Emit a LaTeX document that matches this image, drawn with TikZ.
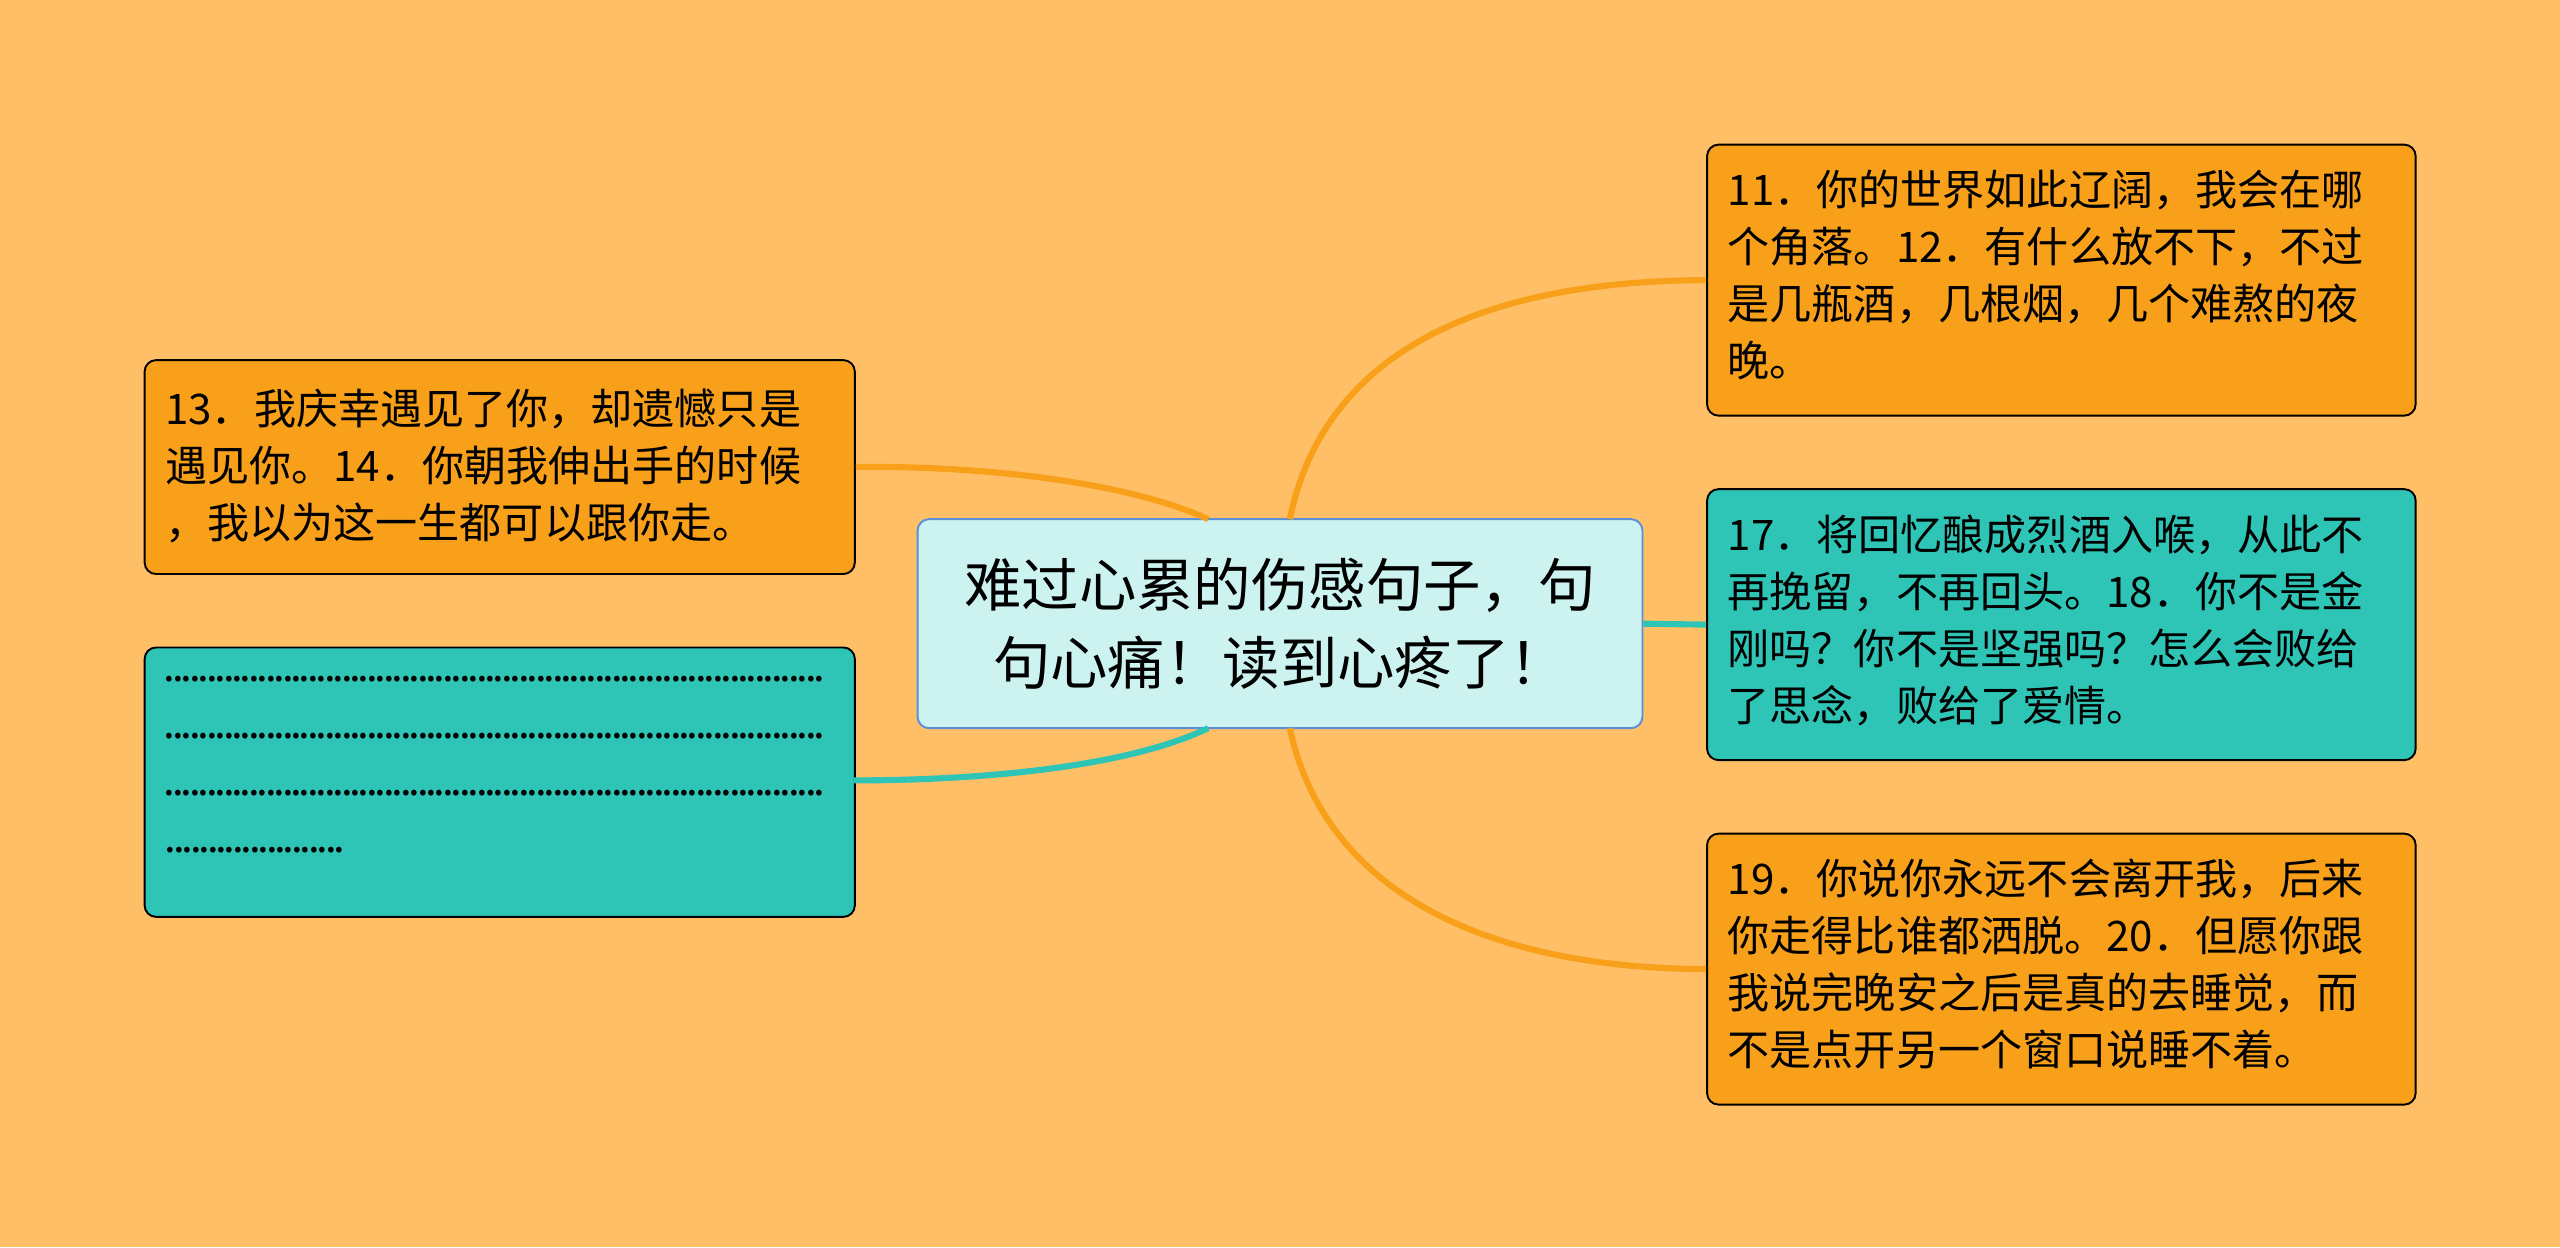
\documentclass[tikz,border=0pt]{standalone}
\usepackage{fontspec}
\setmainfont{Noto Sans CJK SC}
\definecolor{bg}{HTML}{FFBF66}
\definecolor{org}{HTML}{F9A01B}
\definecolor{teal}{HTML}{2EC4B6}
\definecolor{cen}{HTML}{CDF3F1}
\definecolor{cenb}{HTML}{5B8FD9}
\newcommand{\dotrow}[1]{\makebox[#1]{\cleaders\hbox to 0.155cm{\hss.\hss}\hfill}}
\begin{document}
\begin{tikzpicture}[x=0.03cm,y=-0.03cm,
 box/.style={draw=black,line width=1pt,rounded corners=6pt,anchor=north west,inner sep=0pt},
 txt/.style={anchor=north west,text width=12.4cm,align=left,font=\fontsize{22}{29.8}\selectfont,inner sep=0pt},
 ln/.style={line width=3.2pt}]
\fill[bg] (0,0) rectangle (1568,764);
\node[draw=cenb,fill=cen,line width=1pt,rounded corners=6pt,minimum width=444*0.03cm,minimum height=128*0.03cm,align=center,font=\fontsize{30}{41}\selectfont] (c) at (784,382) {难过心累的伤感句子，句\\句心痛！读到心疼了！};
\node[box,fill=org,minimum width=435*0.03cm,minimum height=131*0.03cm] (l1) at (88,220) {};
\node[txt] at (101,238) {13．我庆幸遇见了你，却遗憾只是\\遇见你。14．你朝我伸出手的时候\\，我以为这一生都可以跟你走。};
\node[box,fill=teal,minimum width=435*0.03cm,minimum height=165*0.03cm] (l2) at (88,396) {};
\node[txt] at (101,414) {\dotrow{12.1cm}\\\dotrow{12.1cm}\\\dotrow{12.1cm}\\\dotrow{3.3cm}};
\node[box,fill=org,minimum width=434*0.03cm,minimum height=166*0.03cm] (r1) at (1045,88) {};
\node[txt] at (1058,104) {11．你的世界如此辽阔，我会在哪\\个角落。12．有什么放不下，不过\\是几瓶酒，几根烟，几个难熬的夜\\晚。};
\node[box,fill=teal,minimum width=434*0.03cm,minimum height=166*0.03cm] (r2) at (1045,299) {};
\node[txt] at (1058,315) {17．将回忆酿成烈酒入喉，从此不\\再挽留，不再回头。18．你不是金\\刚吗？你不是坚强吗？怎么会败给\\了思念，败给了爱情。};
\node[box,fill=org,minimum width=434*0.03cm,minimum height=166*0.03cm] (r3) at (1045,510) {};
\node[txt] at (1058,526) {19．你说你永远不会离开我，后来\\你走得比谁都洒脱。20．但愿你跟\\我说完晚安之后是真的去睡觉，而\\不是点开另一个窗口说睡不着。};
\coordinate (ct1) at (790,318); \coordinate (ct2) at (740,318);
\coordinate (cb1) at (790,446); \coordinate (cb2) at (740,446);
\draw[ln,org] (ct1) .. controls (810,220) and (900,172) .. (r1.west);
\draw[ln,org] (cb1) .. controls (810,540) and (900,593) .. (r3.west);
\draw[ln,org] (ct2) .. controls (690,295) and (600,285) .. (l1.east);
\draw[ln,teal] (cb2) .. controls (690,470) and (600,478) .. (523,478);
\draw[ln,teal] (c.east) -- (r2.west);
\end{tikzpicture}
\end{document}
